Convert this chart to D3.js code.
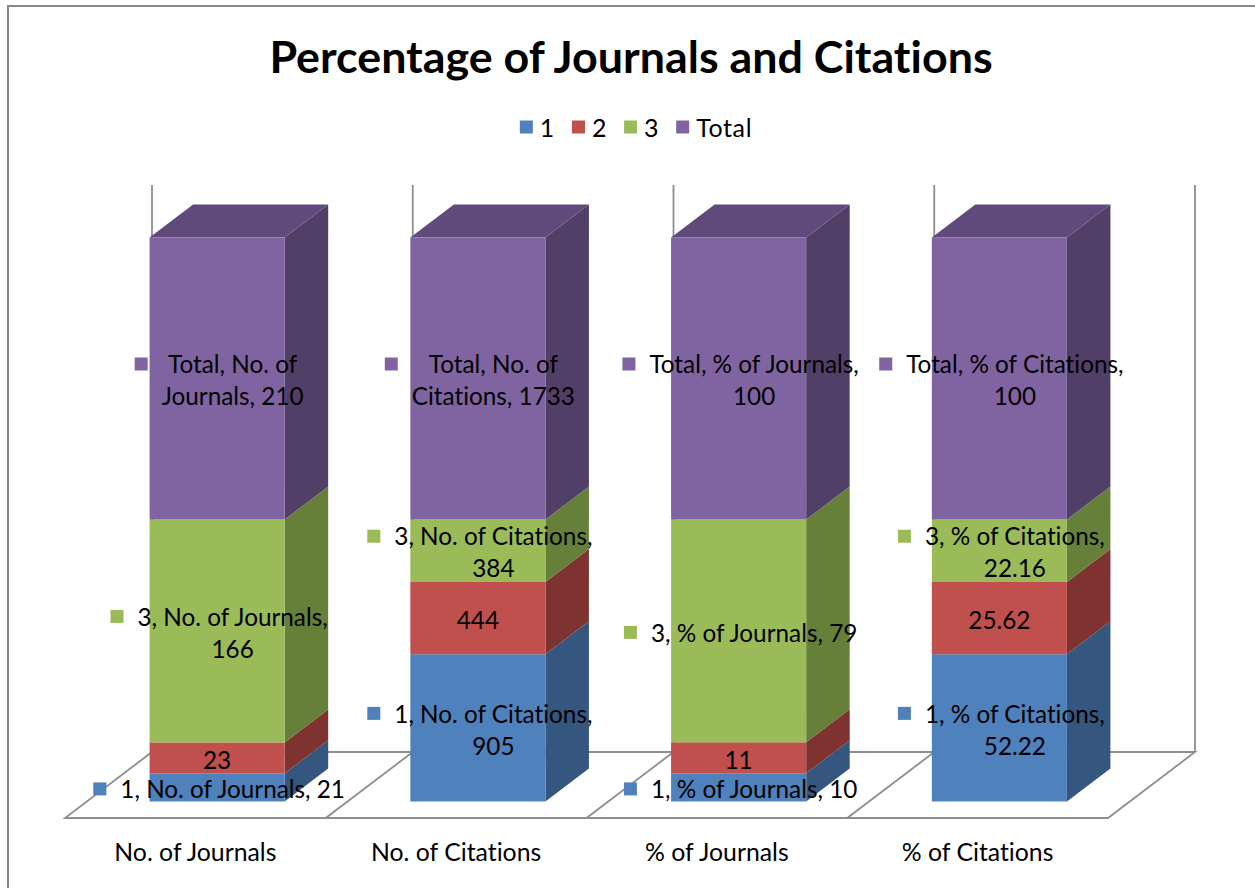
<!DOCTYPE html>
<html>
<head>
<meta charset="utf-8">
<script src="https://cdn.jsdelivr.net/npm/d3@7"></script>
<style>
  html, body { margin: 0; padding: 0; background: #ffffff; }
  svg { display: block; }
  text { font-family: Lato, "Open Sans", sans-serif; fill: #000; font-variant-ligatures: none; font-feature-settings: "liga" 0, "clig" 0; }
</style>
</head>
<body>
<svg id="chart" width="1255" height="888"></svg>
<script>
// ---------------- data ----------------
const categories = ["No. of Journals", "No. of Citations", "% of Journals", "% of Citations"];
const seriesNames = ["1", "2", "3", "Total"];
const series1 = [21, 905, 10, 52.22];
const series2 = [23, 444, 11, 25.62];
const series3 = [166, 384, 79, 22.16];
const seriesTotal = [210, 1733, 100, 100];
// number of words on the first line of each wrapped label (per series, per category); 0 = value only
const labelBreaks = [
  [99, 4, 99, 4],   // series 1
  [0, 0, 0, 0],     // series 2: value only
  [4, 4, 99, 4],    // series 3
  [3, 3, 4, 4]      // Total
];
const title = "Percentage of Journals and Citations";

// ---------------- styles ----------------
const frontColors = ["#4F81BD", "#C0504D", "#9BBB59", "#8064A2"];
const sideColors  = ["#34567F", "#7E3331", "#66803A", "#513F68"];
const topColors   = ["#3F6896", "#9A3F3D", "#7D9747", "#604A7C"];
const gridColor = "#8e8e8e";

const svg = d3.select("#chart");

// outer chart border (only left/top visible)
svg.append("rect").attr("x", 8).attr("y", 6).attr("width", 1262).attr("height", 900)
  .attr("fill", "none").attr("stroke", "#8a8a8a").attr("stroke-width", 2);

// ---------------- geometry ----------------
const floorFrontY = 818;
const depth = { x: 87, y: -66 };
const x = d3.scaleBand().domain(categories).range([65, 1108]).paddingInner(0).paddingOuter(0);
const barFrac = 0.518;
const barFront = 0.25, barBack = 0.75;
const y = d3.scaleLinear().domain([0, 100]).range([0, 564]);

const seriesValues = [series1, series2, series3, seriesTotal];
const stackData = categories.map((c, i) => {
  const o = { category: c };
  seriesNames.forEach((s, k) => o[s] = seriesValues[k][i]);
  return o;
});
const stacked = d3.stack().keys(seriesNames).offset(d3.stackOffsetExpand)(stackData);

// ---------------- floor & walls ----------------
const floorG = svg.append("g");
const fx0 = x.range()[0], fx1 = x.range()[1];
const backY = floorFrontY + depth.y;
floorG.append("path")
  .attr("d", `M${fx0},${floorFrontY} L${fx1},${floorFrontY} L${fx1 + depth.x},${backY} L${fx0 + depth.x},${backY} Z`)
  .attr("fill", "#fff").attr("stroke", gridColor).attr("stroke-width", 1.8);
categories.slice(1).forEach(c => {
  const bx = x(c);
  floorG.append("line").attr("x1", bx).attr("y1", floorFrontY).attr("x2", bx + depth.x).attr("y2", backY)
    .attr("stroke", gridColor).attr("stroke-width", 1.8);
});
const wallTop = backY - y(100) - 3;
const wallXs = categories.map(c => x(c)).concat([fx1]);
wallXs.forEach(bx => {
  floorG.append("line").attr("x1", bx + depth.x).attr("y1", backY).attr("x2", bx + depth.x).attr("y2", wallTop)
    .attr("stroke", gridColor).attr("stroke-width", 1.8);
});

// ---------------- bars ----------------
const barsG = svg.append("g");
const bw = x.bandwidth() * barFrac;
const fo = { x: depth.x * barFront, y: depth.y * barFront };
const dd = { x: depth.x * (barBack - barFront), y: depth.y * (barBack - barFront) };
const baseY = floorFrontY + fo.y;

function barGeom(i, k) {
  const c = categories[i];
  const cx = x(c) + x.bandwidth() / 2 + fo.x;
  const seg = stacked[k][i];
  const yb = baseY - y(seg[0] * 100);
  const yt = baseY - y(seg[1] * 100);
  return { cx, xl: cx - bw / 2, xr: cx + bw / 2, yb, yt };
}

categories.forEach((c, i) => {
  const g = barsG.append("g");
  seriesNames.forEach((s, k) => {
    const b = barGeom(i, k);
    g.append("path")
      .attr("d", `M${b.xr},${b.yb} L${b.xr},${b.yt} L${b.xr + dd.x},${b.yt + dd.y} L${b.xr + dd.x},${b.yb + dd.y} Z`)
      .attr("fill", sideColors[k]);
  });
  const kt = seriesNames.length - 1;
  const t = barGeom(i, kt);
  g.append("path")
    .attr("d", `M${t.xl},${t.yt} L${t.xr},${t.yt} L${t.xr + dd.x},${t.yt + dd.y} L${t.xl + dd.x},${t.yt + dd.y} Z`)
    .attr("fill", topColors[kt]);
  seriesNames.forEach((s, k) => {
    const b = barGeom(i, k);
    g.append("rect").attr("x", b.xl).attr("y", b.yt).attr("width", bw).attr("height", b.yb - b.yt)
      .attr("fill", frontColors[k]);
  });
});

// ---------------- data labels ----------------
const labelsG = svg.append("g");
const fs = 24.3, lh = 32, mk = 13, mgap = 14;
categories.forEach((c, i) => {
  seriesNames.forEach((s, k) => {
    const b = barGeom(i, k);
    const v = seriesValues[k][i];
    const brk = labelBreaks[k][i];
    let lines, marker = true;
    if (brk === 0) { lines = [String(v)]; marker = false; }
    else {
      const words = `${s}, ${c}, ${v}`.split(" ");
      lines = brk >= words.length ? [words.join(" ")] : [words.slice(0, brk).join(" "), words.slice(brk).join(" ")];
    }
    const cy = (b.yb + b.yt) / 2 + 1;
    const g = labelsG.append("g");
    const texts = lines.map((ln, j) => g.append("text")
      .attr("font-size", fs)
      .attr("text-anchor", "middle")
      .attr("dy", "0.4em")
      .attr("y", cy - (lines.length - 1) * lh / 2 + j * lh)
      .text(ln));
    const maxW = d3.max(texts, t => t.node().getComputedTextLength());
    const blockW = (marker ? mk + mgap : 0) + maxW;
    const left = b.cx - blockW / 2 + (marker ? 2 : 0);
    const tcx = left + (marker ? mk + mgap : 0) + maxW / 2;
    texts.forEach(t => t.attr("x", tcx));
    if (marker) {
      const y0 = cy - (lines.length - 1) * lh / 2;
      g.append("rect").attr("x", left).attr("y", y0 - mk / 2 + 0.5).attr("width", mk).attr("height", mk)
        .attr("fill", frontColors[k]);
    }
  });
});

// ---------------- category labels ----------------
svg.append("g").selectAll("text").data(categories).join("text")
  .attr("x", d => x(d) + x.bandwidth() / 2)
  .attr("y", 852).attr("dy", "0.38em")
  .attr("text-anchor", "middle").attr("font-size", 24.8)
  .text(d => d);

// ---------------- title ----------------
svg.append("text").attr("x", 631).attr("y", 57).attr("dy", "0.36em")
  .attr("text-anchor", "middle").attr("font-size", 44.8).attr("font-weight", "bold")
  .text(title);

// ---------------- legend ----------------
const legendG = svg.append("g");
let lx = 0;
seriesNames.forEach((s, k) => {
  const ig = legendG.append("g").attr("transform", `translate(${lx},0)`);
  ig.append("rect").attr("x", 0).attr("y", -6.5).attr("width", 13).attr("height", 13).attr("fill", frontColors[k]);
  const t = ig.append("text").attr("x", 20).attr("dy", "0.38em").attr("font-size", 25).attr("letter-spacing", 0.6).text(s);
  const w = 20 + t.node().getComputedTextLength();
  lx += w + 17;
});
const legendW = lx - 17;
legendG.attr("transform", `translate(${636 - legendW / 2},127)`);
</script>
</body>
</html>
